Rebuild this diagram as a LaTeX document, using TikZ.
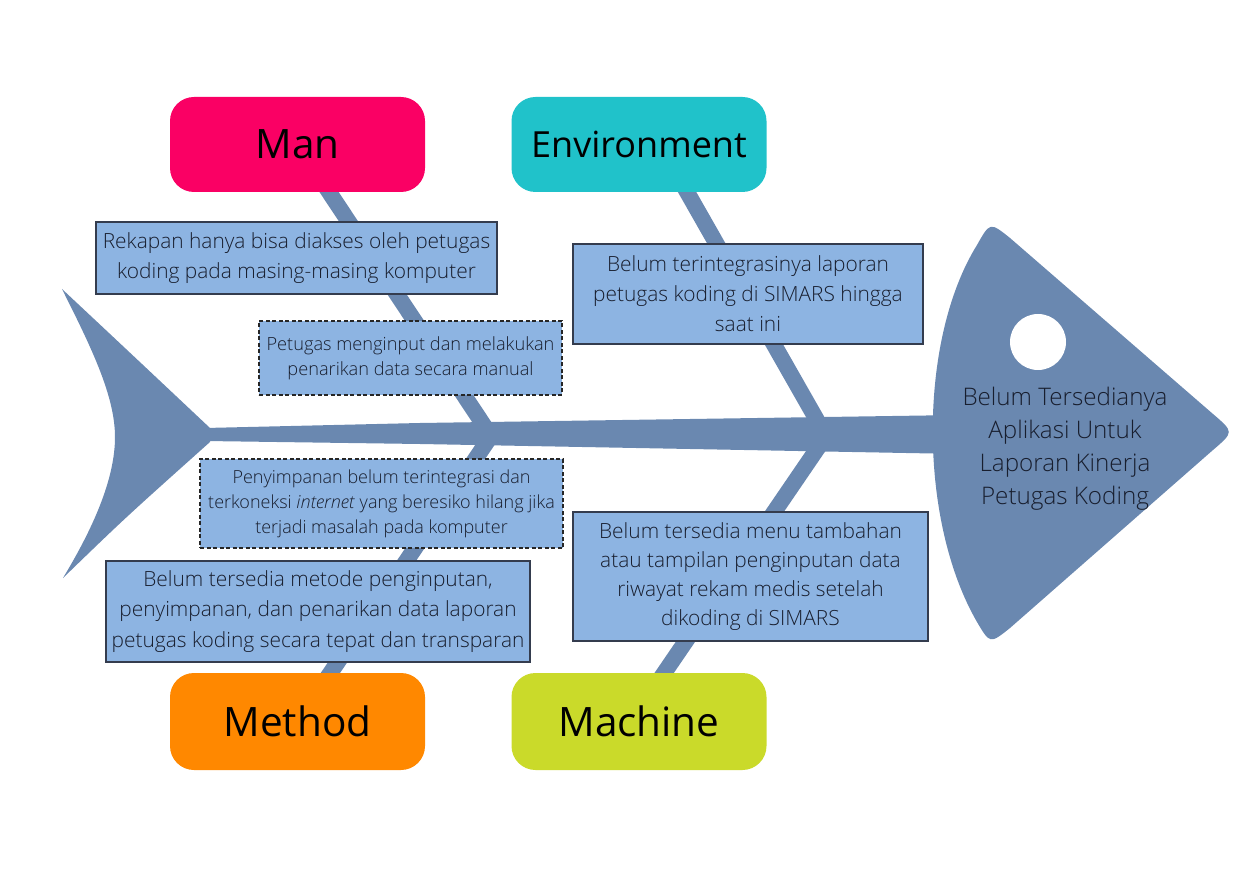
\documentclass[tikz,border=0pt]{standalone}
\usepackage{fontspec}
\IfFontExistsTF{Open Sans Light}{\setmainfont{Open Sans Light}}{\setmainfont{Open Sans}}
\newfontfamily\catfont{Open Sans}
\definecolor{bonec}{RGB}{106,136,176}
\definecolor{boxfill}{RGB}{141,180,226}
\definecolor{boxline}{RGB}{52,60,78}
\definecolor{txt}{RGB}{24,30,46}
\definecolor{manc}{RGB}{250,0,100}
\definecolor{envc}{RGB}{32,194,202}
\definecolor{metc}{RGB}{255,136,0}
\definecolor{macc}{RGB}{202,218,42}
\pgfdeclarelayer{bg}
\pgfsetlayers{bg,main}
\tikzset{
  cat/.style={rounded corners=24pt, minimum width=255pt, minimum height=95pt, inner sep=0pt, font=\catfont\fontsize{40.5}{44}\selectfont, text=black},
  cause/.style={draw=boxline, fill=boxfill, line width=1.2pt, inner sep=0pt, align=center, text=txt},
  dashbox/.style={cause, draw=black!85, line width=1.6pt, dash pattern=on 4pt off 2.5pt},
  bone/.style={draw=bonec, line width=16pt},
}
\begin{document}
\begin{tikzpicture}[x=1pt,y=-1pt]
\useasboundingbox (0,0) rectangle (1259,890);

% category boxes
\node[cat, fill=manc] (man) at (297.5,144.5) {Man};
\node[cat, fill=envc, font=\catfont\fontsize{36}{40}\selectfont] (env) at (639,144.5) {Environment};
\node[cat, fill=metc, minimum height=97pt] (met) at (297.5,721.5) {Method};
\node[cat, fill=macc, minimum height=97pt] (mac) at (639,721.5) {Machine};

% cause boxes
\node[cause, minimum width=401pt, minimum height=72pt, font=\fontsize{20.9}{30}\selectfont] (c1) at (296.5,258)
  {Rekapan hanya bisa diakses oleh petugas\\koding pada masing-masing komputer};
\node[dashbox, minimum width=303pt, minimum height=74pt, font=\fontsize{18.2}{25}\selectfont] (c2) at (410.5,358)
  {Petugas menginput dan melakukan\\penarikan data secara manual};
\node[dashbox, minimum width=363pt, minimum height=89pt, font=\fontsize{18}{25}\selectfont] (c3) at (381.5,503.5)
  {Penyimpanan belum terintegrasi dan\\terkoneksi \textit{internet} yang beresiko hilang jika\\terjadi masalah pada komputer};
\node[cause, minimum width=424pt, minimum height=101pt, font=\fontsize{20.9}{30.5}\selectfont] (c4) at (318,611.5)
  {Belum tersedia metode penginputan,\\penyimpanan, dan penarikan data laporan\\petugas koding secara tepat dan transparan};
\node[cause, minimum width=350pt, minimum height=100pt, font=\fontsize{20.9}{30}\selectfont] (c5) at (748,294)
  {Belum terintegrasinya laporan\\petugas koding di SIMARS hingga\\saat ini};
\node[cause, minimum width=355pt, minimum height=129pt, font=\fontsize{20.9}{29}\selectfont] (c6) at (750.5,576.5)
  {Belum tersedia menu tambahan\\atau tampilan penginputan data\\riwayat rekam medis setelah\\dikoding di SIMARS};

% head text
\node[align=center, text=txt, inner sep=0pt, font=\fontsize{24.2}{33}\selectfont] (effect) at (1065,449)
  {Belum Tersedianya\\Aplikasi Untuk\\Laporan Kinerja\\Petugas Koding};

\coordinate (jA) at (491,436);
\coordinate (jB) at (826,436);

\begin{pgfonlayer}{bg}
  % tail
  \fill[bonec] (62,289) .. controls (125,348) .. (210,428) -- (210,442)
     .. controls (125,518) .. (63,578)
     .. controls (92,530) and (115,480) .. (115,437)
     .. controls (115,395) and (90,345) .. (62,289) -- cycle;
  % spine
  \fill[bonec] (205,428) -- (420,423) -- (960,415) -- (960,454) -- (420,444) -- (205,441) -- cycle;
  % head
  \fill[bonec] (1010,238) -- (1213,414)
     .. controls (1234,432) .. (1213,450)
     -- (1010,628)
     .. controls (990,644) .. (977,622)
     .. controls (918,520) and (918,340) .. (977,245)
     .. controls (990,222) .. (1010,238) -- cycle;
  \fill[white] (1038,342) circle (28);
  % bones
  \draw[bone] (man.center) -- (jA);
  \draw[bone] ([xshift=21pt]env.center) -- (jB);
  \draw[bone] (met.center) -- (jA);
  \draw[bone] ([xshift=-8pt]mac.center) -- (jB);
\end{pgfonlayer}
\end{tikzpicture}
\end{document}
